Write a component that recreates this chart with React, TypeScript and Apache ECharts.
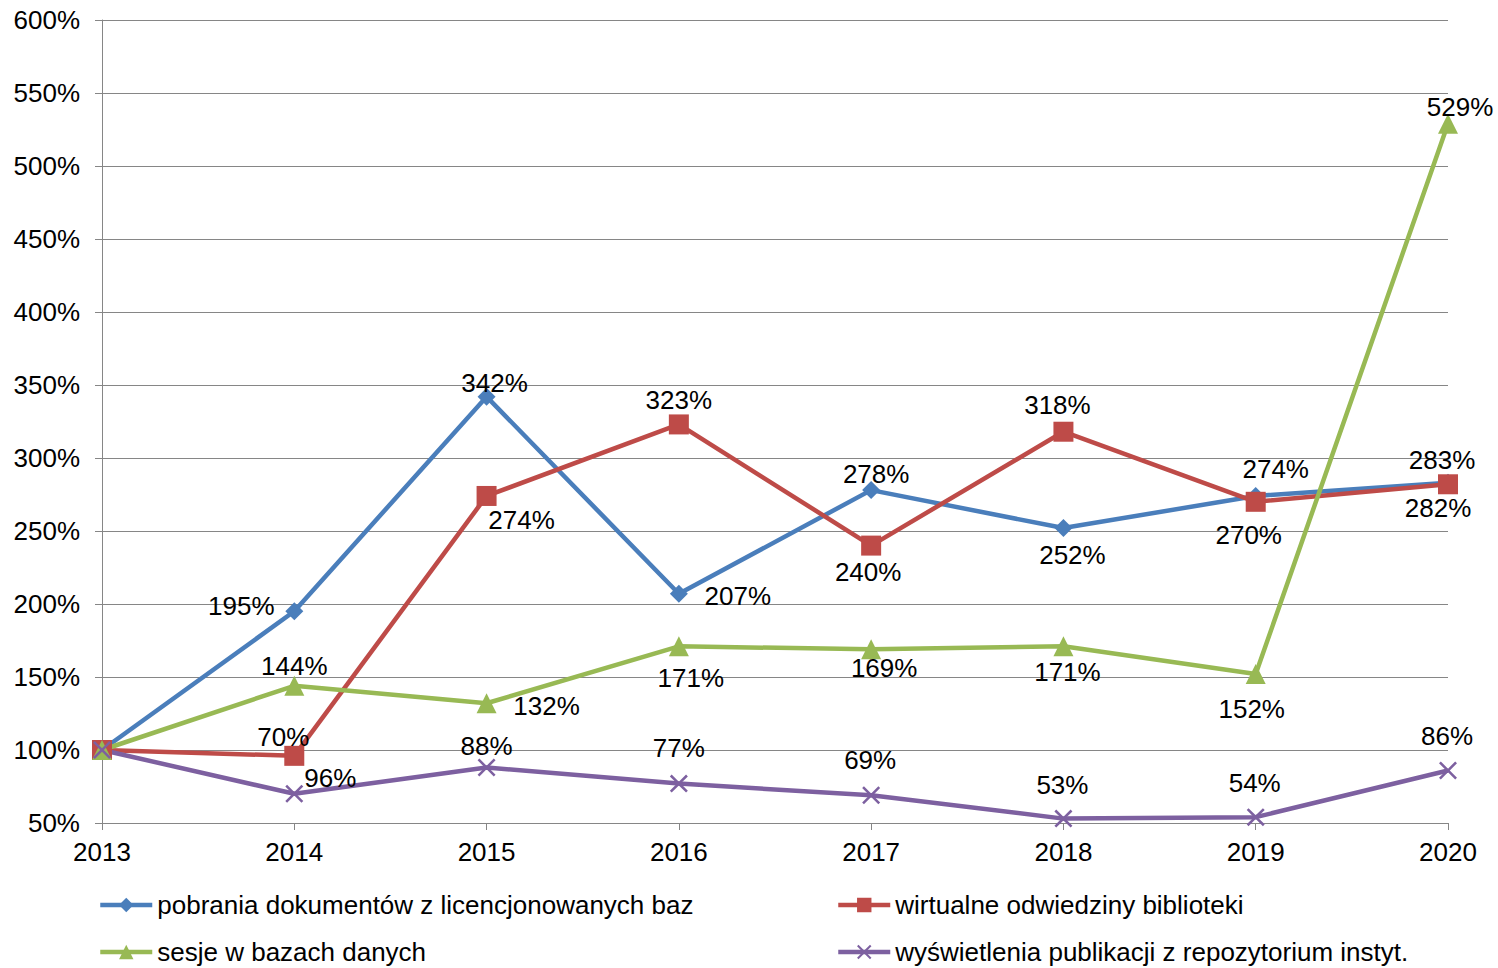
import React, { useEffect, useRef } from "react";
import * as echarts from "echarts";

const years = ["2013", "2014", "2015", "2016", "2017", "2018", "2019", "2020"];
const seriesNames = [
  "pobrania dokumentów z licencjonowanych baz",
  "wirtualne odwiedziny biblioteki",
  "sesje w bazach danych",
  "wyświetlenia publikacji z repozytorium instyt.",
];
const pobrania = [100, 195, 342, 207, 278, 252, 274, 283];
const wirtualne = [100, 96, 274, 323, 240, 318, 270, 282];
const sesje = [100, 144, 132, 171, 169, 171, 152, 529];
const wyswietlenia = [100, 70, 88, 77, 69, 53, 54, 86];

// label offsets relative to marker centre (null = no label)
const offsBlue: (number[] | null)[] = [null, [-53, -5], [8, -14], [59, 2], [5, -16], [9, 27], [20, -27], [-6, -23]];
const offsRed: (number[] | null)[] = [null, [36, 22], [35, 24], [0, -24], [-3, 26], [-6, -27], [-7, 33], [-10, 24]];
const offsGreen: (number[] | null)[] = [null, [0, -20], [60, 3], [12, 32], [13, 19], [4, 26], [-4, 35], [12, -17]];
const offsPurple: (number[] | null)[] = [null, [-11, -57], [0, -22], [0, -36], [-1, -35], [-1, -34], [-1, -34], [-1, -34]];

const colors = ["#4a7ebb", "#be4b48", "#98b954", "#7d60a0"];
const FONT = "Liberation Sans, Arial, sans-serif";
const FS = 26;

const xSymbol =
  "path://M0,1L1,0L5,4L9,0L10,1L6,5L10,9L9,10L5,6L1,10L0,9L4,5Z";

function buildData(vals: number[], offs: (number[] | null)[]) {
  return vals.map((v, i) => {
    const o = offs[i];
    if (!o) return { value: v, label: { show: false } };
    return {
      value: v,
      label: {
        show: true,
        position: "inside",
        offset: o,
        formatter: "{c}%",
        color: "#000",
        fontSize: FS,
        fontFamily: FONT,
      },
    };
  });
}

export default function App() {
  const ref = useRef<HTMLDivElement>(null);
  useEffect(() => {
    if (!ref.current) return;
    const chart = echarts.init(ref.current, undefined, { renderer: "svg" });
    const mk = (idx: number, vals: number[], offs: (number[] | null)[], symbol: string, size: number) => ({
      name: seriesNames[idx],
      type: "line",
      data: buildData(vals, offs),
      symbol,
      symbolSize: size,
      showAllSymbol: true,
      lineStyle: { color: colors[idx], width: 4.5 },
      itemStyle: { color: colors[idx] },
      emphasis: { disabled: true },
    });
    const legendCommon = {
      orient: "vertical",
      top: 892,
      height: 76,
      padding: 0,
      itemWidth: 52,
      itemHeight: 18,
      itemGap: 21,
      lineStyle: { width: 4.5 },
      textStyle: { color: "#000", fontSize: FS, fontFamily: FONT },
      selectedMode: false,
    };
    chart.setOption({
      animation: false,
      backgroundColor: "#ffffff",
      textStyle: { fontFamily: FONT },
      grid: { left: 102, right: 50, top: 20, bottom: 145, containLabel: false },
      xAxis: {
        type: "category",
        data: years,
        boundaryGap: false,
        axisLine: { lineStyle: { color: "#868686", width: 1 } },
        axisTick: { show: true, length: 7, alignWithLabel: true, lineStyle: { color: "#868686" } },
        axisLabel: { color: "#000", fontSize: FS, fontFamily: FONT, margin: 16 },
        splitLine: { show: false },
      },
      yAxis: {
        type: "value",
        min: 50,
        max: 600,
        interval: 50,
        axisLine: { show: true, lineStyle: { color: "#868686", width: 1 } },
        axisTick: { show: true, length: 7, lineStyle: { color: "#868686" } },
        axisLabel: { color: "#000", fontSize: FS, fontFamily: FONT, margin: 22, formatter: "{value}%" },
        splitLine: { show: true, lineStyle: { color: "#868686", width: 1 } },
      },
      legend: [
        { ...legendCommon, data: [seriesNames[0], seriesNames[2]], left: 98 },
        { ...legendCommon, data: [seriesNames[1], seriesNames[3]], left: 836 },
      ],
      series: [
        mk(0, pobrania, offsBlue, "diamond", 18),
        mk(1, wirtualne, offsRed, "rect", 20),
        mk(2, sesje, offsGreen, "triangle", 20),
        mk(3, wyswietlenia, offsPurple, xSymbol, 18),
      ],
    });
    return () => chart.dispose();
  }, []);
  return (
    <div
      ref={ref}
      style={{ position: "fixed", left: 0, top: 0, width: 1498, height: 968, background: "#fff" }}
    />
  );
}
